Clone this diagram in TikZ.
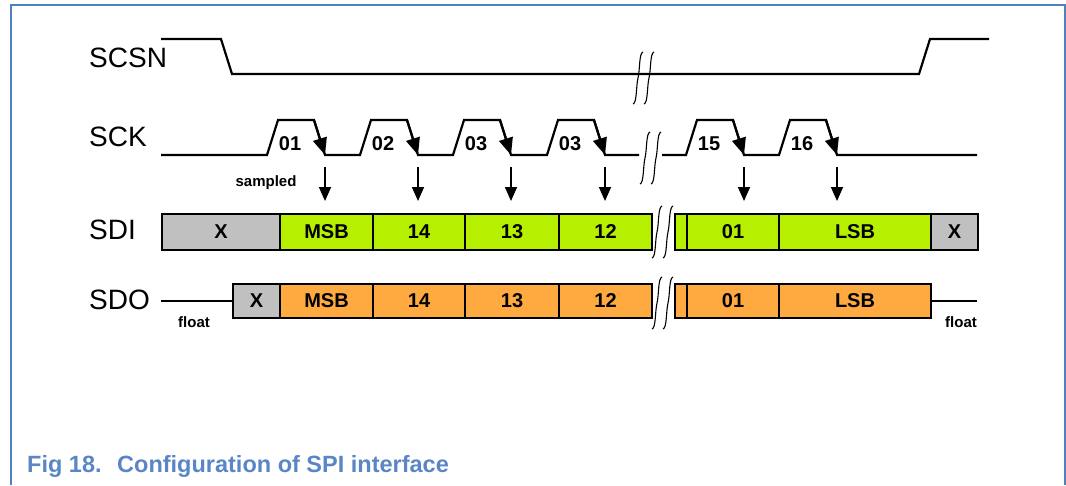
\documentclass[tikz,border=0pt]{standalone}
\usepackage{fontspec}
\setmainfont{Liberation Sans}
\usetikzlibrary{arrows.meta}
\definecolor{frameblue}{RGB}{79,129,189}
\definecolor{capblue}{RGB}{90,134,197}
\definecolor{cellgray}{RGB}{192,192,192}
\definecolor{cellgreen}{RGB}{182,240,0}
\definecolor{cellorange}{RGB}{255,170,64}
\tikzset{
  wave/.style={line width=2.2pt, line join=miter},
  cell/.style={draw, line width=2pt, inner sep=0pt, anchor=north west,
    font=\bfseries\fontsize{20}{22}\selectfont},
  sdicell/.style={cell, minimum height=36pt},
  sdocell/.style={cell, minimum height=34pt},
  sig/.style={font=\fontsize{28}{30}\selectfont, anchor=base west, inner sep=0pt},
  num/.style={font=\bfseries\fontsize{20}{22}\selectfont, anchor=base, inner sep=0pt},
  note/.style={font=\bfseries\fontsize{15}{17}\selectfont, inner sep=0pt},
  falltip/.style={-{Triangle[length=17pt,width=14pt]}, line width=2.2pt},
  sample/.style={-{Triangle[length=14pt,width=12pt]}, line width=1.6pt},
  caption/.style={font=\bfseries\fontsize{23.5}{26}\selectfont, text=capblue,
    anchor=base west, inner sep=0pt},
  brk/.pic={
    \draw[line width=1.1pt] (5,-26) .. controls (1,-25) and (2,-8) .. (0,0)
      .. controls (-2,8) and (-1,25) .. (-5,26);
    \draw[line width=1.1pt] (16,-26) .. controls (12,-25) and (13,-8) .. (11,0)
      .. controls (9,8) and (10,25) .. (6,26);
  }
}
\begin{document}
\begin{tikzpicture}[x=1pt,y=-1pt]
\useasboundingbox (0,0) rectangle (1066,485);

% frame
\draw[frameblue, line width=1.5pt] (11,485) -- (11,5) -- (1065,5) -- (1065,485);

% signal names
\node[sig] (lscsn) at (89,67) {SCSN};
\node[sig] (lsck)  at (89,146) {SCK};
\node[sig] (lsdi)  at (89,239) {SDI};
\node[sig] (lsdo)  at (89,309) {SDO};

% chip select
\draw[wave] (161,39) -- (221,39) -- (232,74) -- (919,74) -- (930,39) -- (989,39);
\pic at (638,78) {brk};

% serial clock
\draw[wave] (161,155) -- (267,155)
  \foreach \r in {267,360,453,547} { -- (\r,155) -- (\r+11,120) -- (\r+47,120) -- (\r+58,155) }
  -- (639,155);
\draw[wave] (662,155)
  \foreach \r in {686,779} { -- (\r,155) -- (\r+11,120) -- (\r+47,120) -- (\r+58,155) }
  -- (977,155);
\pic at (645,158) {brk};

\foreach \r/\t/\n in {267/01/a,360/02/b,453/03/c,547/03/d,686/15/e,779/16/f} {
  \draw[falltip] (\r+47,120) -- (\r+58,155);
  \node[num] (clk\n) at (\r+23,150) {\t};
  \coordinate (s\n) at (\r+58,167);
  \coordinate (e\n) at (\r+58,201);
  \draw[sample] (s\n) -- (e\n);
}
\node[note] (smp) at (266,183) {sampled};

% serial data in
\node[sdicell, fill=cellgray,  minimum width=118pt] (i0) at (161,213) {X};
\node[sdicell, fill=cellgreen, minimum width=93pt]  (i1) at (279,213) {MSB};
\node[sdicell, fill=cellgreen, minimum width=92pt]  (i2) at (372,213) {14};
\node[sdicell, fill=cellgreen, minimum width=94pt]  (i3) at (464,213) {13};
\node[sdicell, fill=cellgreen, minimum width=93pt]  (i4) at (558,213) {12};
\node[sdicell, fill=cellgreen, minimum width=12pt]  (i5) at (674,213) {};
\node[sdicell, fill=cellgreen, minimum width=92pt]  (i6) at (686,213) {01};
\node[sdicell, fill=cellgreen, minimum width=152pt] (i7) at (778,213) {LSB};
\node[sdicell, fill=cellgray,  minimum width=47pt]  (i8) at (930,213) {X};
\pic at (657,232) {brk};

% serial data out
\coordinate (fl0) at (161,300);
\coordinate (fr0) at (977,300);
\node[sdocell, fill=cellgray,   minimum width=47pt]  (o0) at (232,283) {X};
\node[sdocell, fill=cellorange, minimum width=93pt]  (o1) at (279,283) {MSB};
\node[sdocell, fill=cellorange, minimum width=92pt]  (o2) at (372,283) {14};
\node[sdocell, fill=cellorange, minimum width=94pt]  (o3) at (464,283) {13};
\node[sdocell, fill=cellorange, minimum width=93pt]  (o4) at (558,283) {12};
\node[sdocell, fill=cellorange, minimum width=12pt]  (o5) at (674,283) {};
\node[sdocell, fill=cellorange, minimum width=92pt]  (o6) at (686,283) {01};
\node[sdocell, fill=cellorange, minimum width=152pt] (o7) at (778,283) {LSB};
\draw[wave] (o0.west) -- (o0.west -| fl0);
\draw[wave] (o7.east) -- (o7.east -| fr0);
\pic at (657,303) {brk};
\node[note] (fll) at (194,322) {float};
\node[note] (flr) at (961,322) {float};

% caption
\node[caption] (cap1) at (27,472) {Fig 18.};
\node[caption] (cap2) at (117,472) {Configuration of SPI interface};
\end{tikzpicture}
\end{document}
